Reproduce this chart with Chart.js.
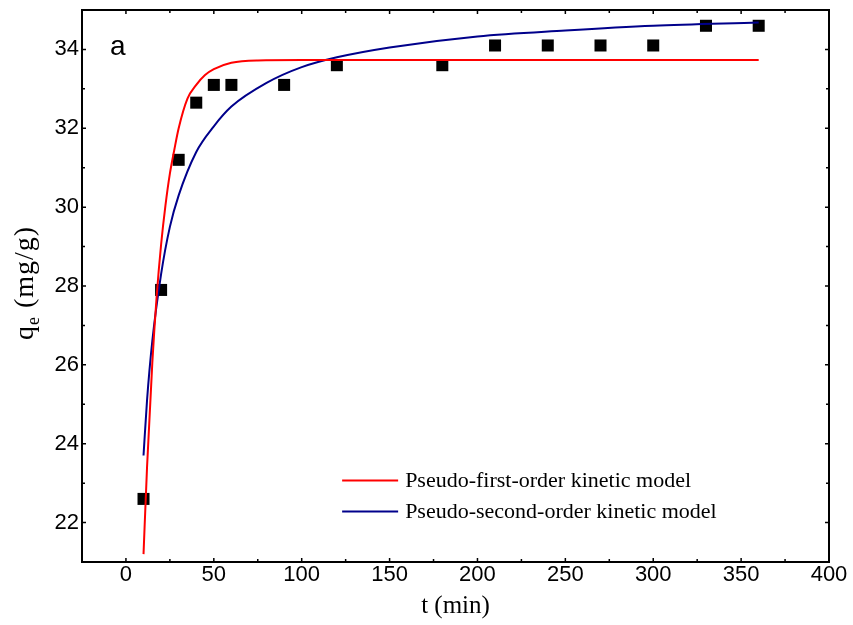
<!DOCTYPE html>
<html>
<head>
<meta charset="utf-8">
<script src="https://cdn.jsdelivr.net/npm/chart.js@4.4.0/dist/chart.umd.min.js"></script>
<style>
  html, body { margin: 0; padding: 0; background: #fff; }
</style>
</head>
<body>
<canvas id="c" width="853" height="625"></canvas>
<script>
// measured points
const expT = [10, 20, 30, 40, 50, 60, 90, 120, 180, 210, 240, 270, 300, 330, 360];
const expQ = [22.6, 27.9, 31.2, 32.65, 33.1, 33.1, 33.1, 33.6, 33.6, 34.1, 34.1, 34.1, 34.1, 34.6, 34.6];

// pseudo-first-order fit curve
const pfoT = [10, 12, 15, 17.5, 20, 22.5, 25, 27.5, 30, 35, 40, 45, 50, 60, 75, 100, 150, 200, 250, 300, 360];
const pfoQ = [21.2, 23.4, 26.05, 27.75, 29.05, 30.05, 30.85, 31.45, 32.0, 32.75, 33.1, 33.35, 33.5, 33.66, 33.72, 33.73, 33.73, 33.73, 33.73, 33.73, 33.73];

// pseudo-second-order fit curve
const psoT = [10, 12, 15, 20, 25, 30, 40, 50, 60, 80, 100, 120, 150, 200, 250, 300, 360];
const psoQ = [23.7, 25.1, 26.6, 28.3, 29.5, 30.3, 31.4, 32.05, 32.55, 33.15, 33.55, 33.8, 34.05, 34.33, 34.48, 34.6, 34.68];

const xTicks = [0, 50, 100, 150, 200, 250, 300, 350, 400];
const xMinor = [25, 75, 125, 175, 225, 275, 325, 375];
const yTicks = [22, 24, 26, 28, 30, 32, 34];
const yMinor = [21, 23, 25, 27, 29, 31, 33, 35];

const legendLabels = ['Pseudo-first-order kinetic model', 'Pseudo-second-order kinetic model'];
const RED = '#ff0000';
const NAVY = '#00008b';

const zip = (xs, ys) => xs.map((v, i) => ({ x: v, y: ys[i] }));

const framePlugin = {
  id: 'frame',
  afterDatasetsDraw(chart) {
    const { ctx, chartArea: a, scales: { x, y } } = chart;
    ctx.save();
    ctx.strokeStyle = '#000';
    ctx.lineWidth = 2;
    ctx.strokeRect(a.left, a.top, a.right - a.left, a.bottom - a.top);

    ctx.lineWidth = 1.5;
    ctx.beginPath();
    const xt = (v, len) => {
      const px = x.getPixelForValue(v);
      ctx.moveTo(px, a.bottom); ctx.lineTo(px, a.bottom - len);
      ctx.moveTo(px, a.top); ctx.lineTo(px, a.top + len);
    };
    const yt = (v, len) => {
      const py = y.getPixelForValue(v);
      ctx.moveTo(a.left, py); ctx.lineTo(a.left + len, py);
      ctx.moveTo(a.right, py); ctx.lineTo(a.right - len, py);
    };
    xTicks.forEach(v => xt(v, 4));
    xMinor.forEach(v => xt(v, 3));
    yTicks.forEach(v => yt(v, 4));
    yMinor.forEach(v => yt(v, 3));
    ctx.stroke();

    // panel letter
    ctx.fillStyle = '#000';
    ctx.font = '28px "Liberation Sans", Arial, sans-serif';
    ctx.textBaseline = 'alphabetic';
    ctx.textAlign = 'left';
    ctx.fillText('a', x.getPixelForValue(-9), y.getPixelForValue(33.85));

    // legend
    ctx.font = '22px "Liberation Serif", "Times New Roman", serif';
    ctx.textBaseline = 'middle';
    const lx = x.getPixelForValue(123);
    const rows = [y.getPixelForValue(23.07), y.getPixelForValue(22.28)];
    [RED, NAVY].forEach((col, i) => {
      ctx.strokeStyle = col;
      ctx.lineWidth = 2;
      ctx.beginPath();
      ctx.moveTo(lx, rows[i]);
      ctx.lineTo(lx + 56, rows[i]);
      ctx.stroke();
      ctx.fillStyle = '#000';
      ctx.fillText(legendLabels[i], lx + 63, rows[i] + 1);
    });

    // y title with subscript
    ctx.translate(33, 283);
    ctx.rotate(-Math.PI / 2);
    const big = '28px "Liberation Serif", "Times New Roman", serif';
    const small = '18px "Liberation Serif", "Times New Roman", serif';
    ctx.letterSpacing = '1px';
    ctx.textBaseline = 'alphabetic';
    ctx.font = big; const wq = ctx.measureText('q').width;
    ctx.font = small; const we = ctx.measureText('e').width;
    ctx.font = big; const wr = ctx.measureText(' (mg/g)').width;
    let sx = -(wq + we + wr) / 2;
    ctx.font = big; ctx.fillText('q', sx, 0); sx += wq;
    ctx.font = small; ctx.fillText('e', sx, 6); sx += we;
    ctx.font = big; ctx.fillText(' (mg/g)', sx, 0);
    ctx.restore();
  }
};

const tickFont = { family: '"Liberation Sans", Arial, sans-serif', size: 22 };

new Chart(document.getElementById('c').getContext('2d'), {
  type: 'scatter',
  data: {
    datasets: [
      {
        type: 'line',
        label: legendLabels[0],
        data: zip(pfoT, pfoQ),
        borderColor: RED,
        borderWidth: 2,
        pointRadius: 0,
        cubicInterpolationMode: 'monotone',
        fill: false
      },
      {
        type: 'line',
        label: legendLabels[1],
        data: zip(psoT, psoQ),
        borderColor: NAVY,
        borderWidth: 2,
        pointRadius: 0,
        cubicInterpolationMode: 'monotone',
        fill: false
      },
      {
        label: 'experimental',
        data: zip(expT, expQ),
        pointStyle: 'rect',
        pointRadius: 8.5,
        backgroundColor: '#000',
        borderColor: '#000',
        borderWidth: 0
      }
    ]
  },
  options: {
    responsive: false,
    animation: false,
    events: [],
    layout: { padding: { top: 10, right: 24, left: 0, bottom: 0 } },
    plugins: { legend: { display: false }, tooltip: { enabled: false } },
    scales: {
      x: {
        type: 'linear',
        min: -25,
        max: 400,
        afterBuildTicks: s => { s.ticks = xTicks.map(v => ({ value: v })); },
        afterFit: s => { s.height = 63; s.paddingLeft = 0; s.paddingRight = 0; },
        grid: { display: false, drawTicks: false },
        border: { display: false },
        ticks: { font: tickFont, color: '#000', padding: 0, maxRotation: 0 },
        title: {
          display: true,
          text: 't (min)',
          color: '#000',
          font: { family: '"Liberation Serif", "Times New Roman", serif', size: 25 },
          padding: { top: 0, bottom: 4 }
        }
      },
      y: {
        min: 21,
        max: 35,
        afterBuildTicks: s => { s.ticks = yTicks.map(v => ({ value: v })); },
        afterFit: s => { s.width = 82; s.paddingTop = 0; s.paddingBottom = 0; },
        grid: { display: false, drawTicks: false },
        border: { display: false },
        ticks: { font: tickFont, color: '#000', padding: 3 }
      }
    }
  },
  plugins: [framePlugin]
});
</script>
</body>
</html>
